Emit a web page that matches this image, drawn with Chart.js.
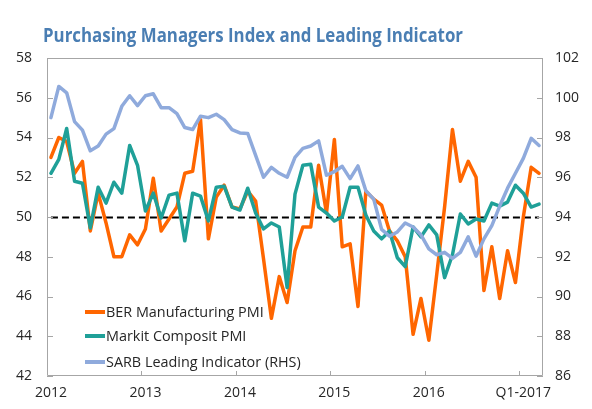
<!DOCTYPE html>
<html>
<head>
<meta charset="utf-8">
<script src="https://cdn.jsdelivr.net/npm/chart.js@4.4.1/dist/chart.umd.min.js"></script>
<style>
  html, body { margin: 0; padding: 0; background: #ffffff; }
  #wrap { position: relative; width: 592px; height: 409px; overflow: hidden; }
  #chart { position: absolute; left: 0; top: 0; }
  #title { position: absolute; left: 43px; top: 21px; font-family: "Open Sans", sans-serif; font-weight: bold; font-size: 19.5px; color: #4A7EB3; white-space: nowrap; transform-origin: 0 0; }
  .leg { position: absolute; left: 85px; height: 20px; line-height: 20px; font-family: "Open Sans", sans-serif; font-size: 14.4px; color: #262626; white-space: nowrap; display: flex; align-items: center; }
  .leg .sw { display: inline-block; width: 20px; height: 4px; margin-right: 1px; }
</style>
</head>
<body>
<div id="wrap">
  <canvas id="chart" width="592" height="409"></canvas>
  <div id="title">Purchasing Managers Index and Leading Indicator</div>
  <div id="legend"></div>
</div>
<script>
// ---- data ----
const categories = [
  'Jan-12','Feb-12','Mar-12','Apr-12','May-12','Jun-12','Jul-12','Aug-12','Sep-12','Oct-12','Nov-12','Dec-12',
  'Jan-13','Feb-13','Mar-13','Apr-13','May-13','Jun-13','Jul-13','Aug-13','Sep-13','Oct-13','Nov-13','Dec-13',
  'Jan-14','Feb-14','Mar-14','Apr-14','May-14','Jun-14','Jul-14','Aug-14','Sep-14','Oct-14','Nov-14','Dec-14',
  'Jan-15','Feb-15','Mar-15','Apr-15','May-15','Jun-15','Jul-15','Aug-15','Sep-15','Oct-15','Nov-15','Dec-15',
  'Jan-16','Feb-16','Mar-16','Apr-16','May-16','Jun-16','Jul-16','Aug-16','Sep-16','Oct-16','Nov-16','Dec-16',
  'Jan-17','Feb-17','Mar-17'
];
const xTickLabels = ['2012', '2013', '2014', '2015', '2016', 'Q1-2017'];
const leftTickValues = [42, 44, 46, 48, 50, 52, 54, 56, 58];
const rightTickValues = [86, 88, 90, 92, 94, 96, 98, 100, 102];
const referenceLevel = 50;
const seriesNames = ['BER Manufacturing PMI', 'Markit Composit PMI', 'SARB Leading Indicator (RHS)'];

const berPMI = [
  53.0, 54.0, 53.8, 52.2, 52.8, 49.3, 51.2, 49.7, 48.0, 48.0, 49.1, 48.6,
  49.4, 51.95, 49.3, 49.9, 50.5, 52.2, 52.3, 54.9, 48.9, 51.0, 51.6, 50.5,
  50.4, 51.3, 50.8, 47.9, 44.9, 47.0, 45.7, 48.3, 49.5, 49.5, 52.6, 50.2,
  53.9, 48.5, 48.65, 45.5, 51.3, 50.9, 50.6, 49.3, 48.8, 48.0, 44.1, 45.9,
  43.8, 47.1, 50.5, 54.4, 51.8, 52.8, 52.0, 46.3, 48.5, 45.9, 48.3, 46.7,
  50.0, 52.5, 52.2
];
const markitPMI = [
  52.2, 52.9, 54.45, 51.8, 51.7, 49.45, 51.5, 50.7, 51.75, 51.2, 53.6, 52.6,
  50.3, 51.2, 49.95, 51.1, 51.2, 48.8, 51.2, 51.05, 49.8, 51.5, 51.55, 50.5,
  50.35, 51.45, 50.2, 49.4, 49.7, 49.5, 46.45, 51.15, 52.6, 52.65, 50.5, 50.2,
  49.8, 50.0, 51.5, 51.5, 50.1, 49.3, 48.9, 49.3, 47.95, 47.5, 49.5, 49.0,
  49.6, 49.1, 46.95, 48.1, 50.15, 49.65, 49.9, 49.8, 50.7, 50.55, 50.75, 51.6,
  51.2, 50.5, 50.65
];
const sarbLeading = [
  99.0, 100.57, 100.25, 98.8, 98.37, 97.33, 97.57, 98.17, 98.45, 99.57, 100.1, 99.6,
  100.1, 100.2, 99.5, 99.5, 99.2, 98.5, 98.4, 99.07, 99.0, 99.17, 98.9, 98.4,
  98.23, 98.2, 97.1, 96.0, 96.5, 96.2, 96.0, 97.0, 97.45, 97.57, 97.83, 96.1,
  96.28, 96.55, 95.93, 96.57, 95.32, 94.9, 93.38, 93.03, 93.25, 93.7, 93.5, 93.1,
  92.4, 92.1, 92.22, 91.92, 92.22, 93.0, 92.03, 92.9, 93.57, 94.55, 95.45, 96.2,
  96.95, 97.96, 97.6
];

// ---- styles ----
const colors = ['#FF6600', '#1FA098', '#8FAADC'];
const axisColor = '#A6A6A6';
const textColor = '#262626';
const tickFont = { family: 'Open Sans', size: 14 };

// title width fit
(function () {
  const t = document.getElementById('title');
  const w = t.getBoundingClientRect().width;
  t.style.transform = 'scaleX(' + (420 / w) + ')';
})();

// legend
(function () {
  const lg = document.getElementById('legend');
  const centers = [312, 336, 362];
  seriesNames.forEach((n, i) => {
    const d = document.createElement('div');
    d.className = 'leg';
    d.style.top = (centers[i] - 10) + 'px';
    const sw = document.createElement('span');
    sw.className = 'sw';
    sw.style.background = colors[i];
    d.appendChild(sw);
    d.appendChild(document.createTextNode(n));
    lg.appendChild(d);
  });
})();

const framePlugin = {
  id: 'frame',
  beforeDatasetsDraw(chart) {
    const { ctx, scales: { x, y } } = chart;
    const yy = Math.round(y.getPixelForValue(referenceLevel)) + 0.5;
    ctx.save();
    ctx.strokeStyle = '#000000';
    ctx.lineWidth = 2;
    ctx.setLineDash([7, 4]);
    ctx.beginPath();
    ctx.moveTo(x.getPixelForValue(0), yy);
    ctx.lineTo(x.getPixelForValue(categories.length - 1), yy);
    ctx.stroke();
    ctx.restore();
  },
  afterDraw(chart) {
    const { ctx, chartArea: a, scales: { x, y, y1 } } = chart;
    ctx.save();
    ctx.strokeStyle = axisColor;
    ctx.lineWidth = 1;
    ctx.beginPath();
    ctx.rect(a.left + 0.5, a.top + 0.5, a.right - a.left - 1, a.bottom - a.top - 1);
    y.ticks.forEach(t => {
      const p = Math.round(y.getPixelForValue(t.value)) + 0.5;
      ctx.moveTo(a.left, p); ctx.lineTo(a.left + 6, p);
    });
    y1.ticks.forEach(t => {
      const p = Math.round(y1.getPixelForValue(t.value)) + 0.5;
      ctx.moveTo(a.right - 6, p); ctx.lineTo(a.right, p);
    });
    for (let i = 12; i < categories.length; i += 12) {
      const p = Math.round((x.getPixelForValue(i - 1) + x.getPixelForValue(i)) / 2) + 0.5;
      ctx.moveTo(p, a.bottom); ctx.lineTo(p, a.bottom - 5);
    }
    ctx.stroke();
    ctx.restore();
  }
};

const lineStyle = (i) => ({
  borderColor: colors[i],
  backgroundColor: colors[i],
  borderWidth: 3.5,
  pointRadius: 0,
  tension: 0,
  fill: false,
  borderJoinStyle: 'round',
  borderCapStyle: 'round'
});

new Chart(document.getElementById('chart'), {
  type: 'line',
  data: {
    labels: categories,
    datasets: [
      Object.assign({ label: seriesNames[0], data: berPMI, yAxisID: 'y', order: 2 }, lineStyle(0)),
      Object.assign({ label: seriesNames[1], data: markitPMI, yAxisID: 'y', order: 1 }, lineStyle(1)),
      Object.assign({ label: seriesNames[2], data: sarbLeading, yAxisID: 'y1', order: 0 }, lineStyle(2))
    ]
  },
  options: {
    responsive: false,
    animation: false,
    devicePixelRatio: 1,
    layout: { padding: { top: 58, left: 0, right: 0, bottom: 0 } },
    plugins: { legend: { display: false }, title: { display: false }, tooltip: { enabled: false } },
    scales: {
      x: {
        type: 'category',
        offset: true,
        grid: { display: false, drawTicks: false },
        border: { display: false },
        ticks: {
          autoSkip: false, maxRotation: 0, minRotation: 0, padding: 9,
          font: tickFont, color: textColor,
          callback: (v, i) => (i % 12 === 0 ? xTickLabels[i / 12] : '')
        },
        afterFit: s => { s.height = 33; }
      },
      y: {
        position: 'left',
        min: leftTickValues[0], max: leftTickValues[leftTickValues.length - 1],
        grid: { display: false, drawTicks: false },
        border: { display: false },
        ticks: { stepSize: leftTickValues[1] - leftTickValues[0], padding: 15, font: tickFont, color: textColor },
        afterFit: s => { s.width = 47; }
      },
      y1: {
        position: 'right',
        min: rightTickValues[0], max: rightTickValues[rightTickValues.length - 1],
        grid: { display: false, drawTicks: false },
        border: { display: false },
        ticks: { stepSize: rightTickValues[1] - rightTickValues[0], padding: 12, font: tickFont, color: textColor },
        afterFit: s => { s.width = 49; }
      }
    }
  },
  plugins: [framePlugin]
});
</script>
</body>
</html>
